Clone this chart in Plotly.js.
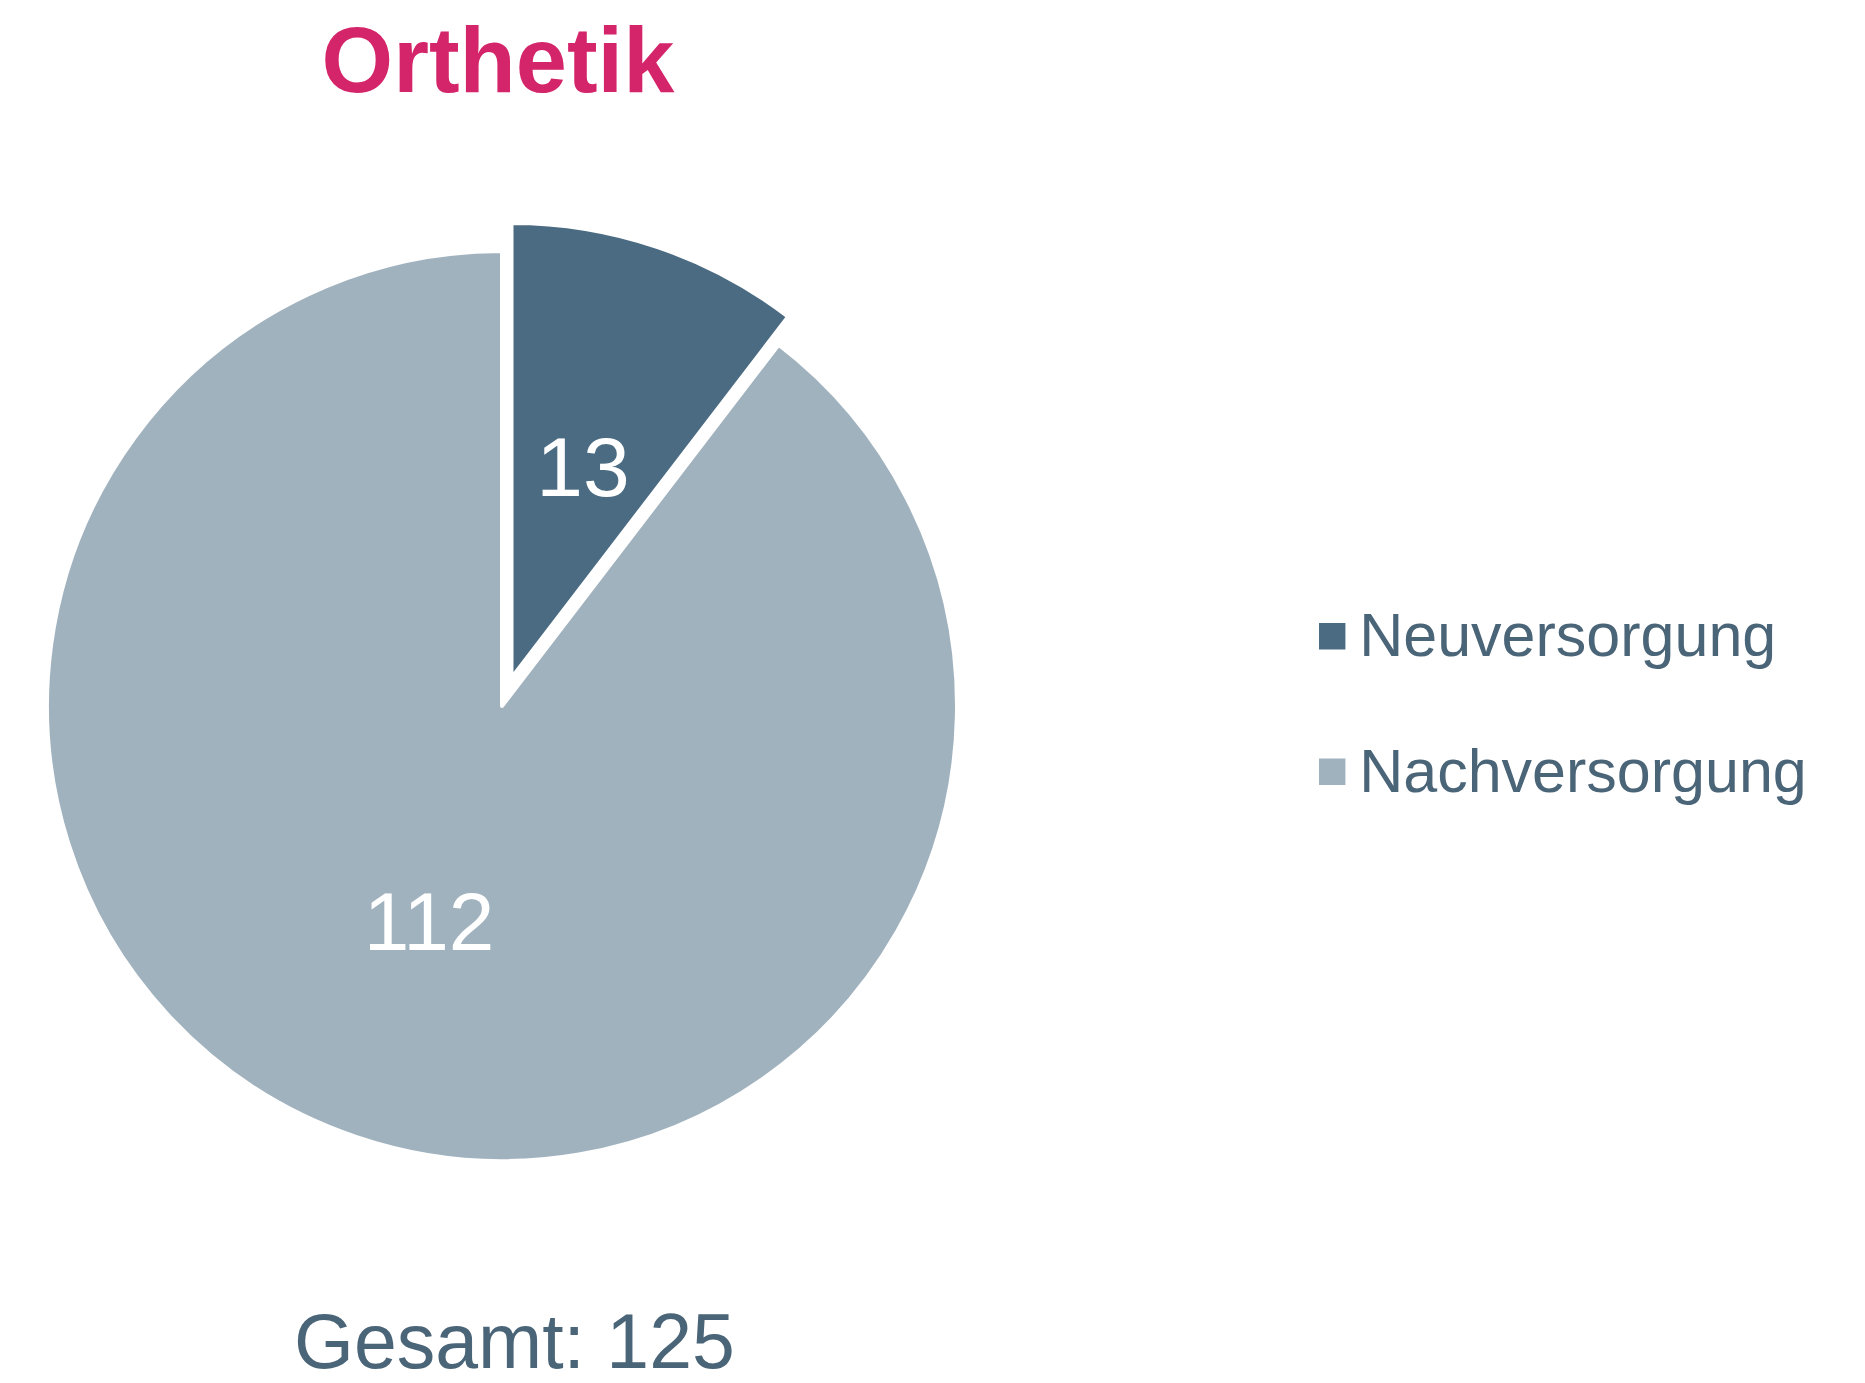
<!DOCTYPE html>
<html>
<head>
<meta charset="utf-8">
<script src="https://cdn.plot.ly/plotly-3.0.1.min.js"></script>
<style>
html,body{margin:0;padding:0;background:#fff;}
#chart{width:1865px;height:1383px;}
#chart .legendpie{transform:translate(20px,0px) scale(2.2);stroke-width:0 !important;}
</style>
</head>
<body>
<div id="chart"></div>
<script>
const categories = ["Neuversorgung", "Nachversorgung"];
const values = [13, 112];
const total = 125;
const titleText = "Orthetik";
const totalLabel = "Gesamt: " + total;

const colors = ["#4a6b82", "#a1b2bf"];
const font = "Liberation Sans, Arial, sans-serif";
const textColor = "#4a6478";

const W = 1865, H = 1383;
const cx = 502, cy = 706, R = 455, PULL = 0.065;
function domainFor(r, pullFrac) {
  const half = r * (1 + pullFrac);
  return {x: [(cx - half) / W, (cx + half) / W], y: [1 - (cy + half) / H, 1 - (cy - half) / H]};
}
const r2 = 0.646 * R;
const pull2 = PULL * R / r2;

const legendLabels = categories.map(c => '<span style="font-size:61px">' + c + '</span><br>&nbsp;');

const mainPie = {
  type: "pie",
  labels: legendLabels,
  values: values,
  customdata: categories,
  sort: false,
  direction: "clockwise",
  rotation: 0,
  pull: [PULL, 0],
  marker: {colors: colors, line: {color: "#ffffff", width: 4}},
  textinfo: "value",
  textposition: ["none", "inside"],
  insidetextorientation: "horizontal",
  textfont: {family: font, size: 82, color: "#ffffff"},
  hovertemplate: "%{customdata}: %{value}<extra></extra>",
  domain: domainFor(R, PULL)
};

const labelPie = {
  type: "pie",
  labels: categories,
  values: values,
  sort: false,
  direction: "clockwise",
  rotation: 0,
  pull: [pull2, 0],
  marker: {colors: ["rgba(0,0,0,0)", "rgba(0,0,0,0)"], line: {width: 0}},
  textinfo: "value",
  textposition: ["inside", "none"],
  insidetextorientation: "horizontal",
  textfont: {family: font, size: 84, color: "#ffffff"},
  hoverinfo: "skip",
  showlegend: false,
  domain: domainFor(r2, pull2)
};

const layout = {
  width: W, height: H,
  margin: {l: 0, r: 0, t: 0, b: 0},
  paper_bgcolor: "#ffffff",
  plot_bgcolor: "#ffffff",
  font: {family: font, color: textColor},
  title: {
    text: "<b>" + titleText + "</b>",
    font: {family: font, size: 92, color: "#d4246a"},
    x: 0.267, xanchor: "center",
    y: 0.957, yanchor: "middle"
  },
  showlegend: true,
  legend: {
    x: 0.7036, xanchor: "left",
    y: 0.4667, yanchor: "middle",
    font: {family: font, size: 51, color: textColor},
    valign: "top",
    traceorder: "normal",
    itemwidth: 37
  },
  annotations: [{
    text: totalLabel,
    xref: "paper", yref: "paper",
    x: 0.276, y: 1 - 1341 / H,
    xanchor: "center", yanchor: "middle",
    showarrow: false,
    font: {family: font, size: 77, color: textColor}
  }]
};

Plotly.newPlot("chart", [mainPie, labelPie], layout, {displayModeBar: false});
</script>
</body>
</html>
